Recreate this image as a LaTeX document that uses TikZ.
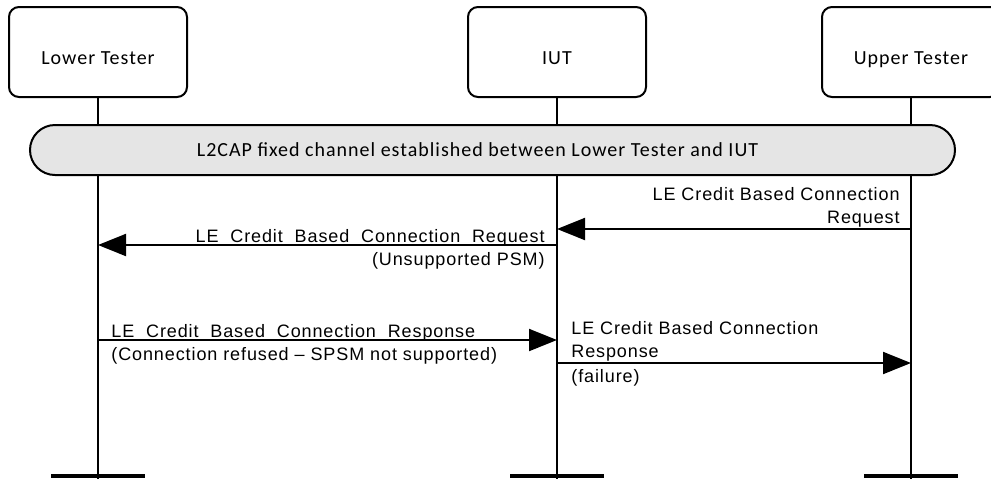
\documentclass[tikz,border=0pt]{standalone}
\usepackage{fontspec}
\setmainfont{Liberation Sans}
\newfontfamily\msgfont{Liberation Sans}[LetterSpace=5]
\newfontfamily\boxfont{Carlito}[LetterSpace=5]
\usepackage{xcolor}
\usepackage{tikz}
\usetikzlibrary{positioning,arrows.meta,calc}
\definecolor{ink}{HTML}{000000}
\definecolor{band}{HTML}{E5E5E5}
\tikzset{
  actor/.style={draw=ink,line width=1pt,rounded corners=5pt,minimum width=89pt,minimum height=45pt,text height=1.5em,text depth=0.25em,text=ink,font=\boxfont\fontsize{10}{12}\selectfont},
  chanbar/.style={draw=ink,line width=1pt,fill=band,rounded corners=12.5pt,minimum width=462.5pt,minimum height=25pt},
  life/.style={draw=ink,line width=1pt},
  foot/.style={draw=ink,line width=2pt},
  msg/.style={draw=ink,line width=1pt,-{Triangle[length=14pt,width=11pt]}},
  lbl/.style={inner sep=0pt,text=ink,font=\msgfont\fontsize{9}{11.5}\selectfont},
}
\begin{document}
\begin{tikzpicture}[x=0.5pt,y=-0.5pt]
  \useasboundingbox (0,0) rectangle (991,478);
  \clip (0,0) rectangle (991,478);
  \node[actor] (lt) at (98,52) {Lower Tester};
  \node[actor] (iut) at (557,52) {IUT};
  \node[actor] (ut) at (911,52) {Upper Tester};
  \coordinate (end) at (0,480);
  \coordinate (base) at (0,476);
  \foreach \who in {lt,iut,ut} {
    \draw[life] (\who.south) -- (\who |- end);
    \draw[foot] ($(\who |- base)+(-47,0)$) -- ($(\who |- base)+(47,0)$);
  }
  \node[chanbar] (chan) at (492.5,150) {};
  \node[text=ink,font=\boxfont\fontsize{10}{12}\selectfont] at ($(chan.center)+(-15,0)$) {L2CAP fixed channel established between Lower Tester and IUT};
  \coordinate (m1) at (0,229);
  \coordinate (m2) at (0,245);
  \coordinate (m3) at (0,340);
  \coordinate (m4) at (0,363);
  \draw[msg] (ut |- m1) -- (iut |- m1);
  \node[lbl,align=right,anchor=south east] at ($(ut |- m1)+(-11,-1)$) {LE Credit Based Connection\\Request};
  \draw[msg] (iut |- m2) -- (lt |- m2);
  \node[lbl,anchor=base east] at ($(iut |- m2)+(-12,-3)$) {LE\_Credit\_Based\_Connection\_Request};
  \node[lbl,anchor=base east] at ($(iut |- m2)+(-12,20)$) {(Unsupported PSM)};
  \draw[msg] (lt |- m3) -- (iut |- m3);
  \node[lbl,anchor=base west] at ($(lt |- m3)+(13,-3)$) {LE\_Credit\_Based\_Connection\_Response};
  \node[lbl,anchor=base west] at ($(lt |- m3)+(13,20)$) {(Connection refused – SPSM not supported)};
  \draw[msg] (iut |- m4) -- (ut |- m4);
  \node[lbl,align=left,anchor=south west] at ($(iut |- m4)+(14,-1.5)$) {LE Credit Based Connection\\Response};
  \node[lbl,anchor=base west] at ($(iut |- m4)+(14,19)$) {(failure)};
\end{tikzpicture}
\end{document}
